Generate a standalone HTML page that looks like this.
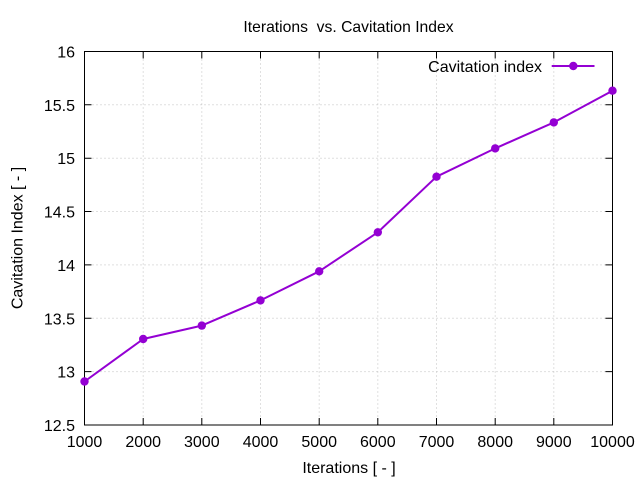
<!DOCTYPE html>
<html><head><meta charset="utf-8"><style>
html,body{margin:0;padding:0;background:#fff;}
svg{display:block;}
text{font-family:"Liberation Sans",Arial,sans-serif;font-size:16px;fill:#000;white-space:pre;}
</style></head><body>
<svg width="640" height="480" viewBox="0 0 640 480" xmlns="http://www.w3.org/2000/svg">
<rect width="640" height="480" fill="#fff"/>
<g stroke="#c0c0c0" stroke-width="1" stroke-dasharray="1,3" fill="none">
<line x1="143.2" y1="51.5" x2="143.2" y2="425"/>
<line x1="201.8" y1="51.5" x2="201.8" y2="425"/>
<line x1="260.5" y1="51.5" x2="260.5" y2="425"/>
<line x1="319.2" y1="51.5" x2="319.2" y2="425"/>
<line x1="377.8" y1="51.5" x2="377.8" y2="425"/>
<line x1="436.5" y1="51.5" x2="436.5" y2="425"/>
<line x1="495.2" y1="51.5" x2="495.2" y2="425"/>
<line x1="553.8" y1="51.5" x2="553.8" y2="425"/>
<line x1="84.5" y1="371.6" x2="612.5" y2="371.6"/>
<line x1="84.5" y1="318.3" x2="612.5" y2="318.3"/>
<line x1="84.5" y1="264.9" x2="612.5" y2="264.9"/>
<line x1="84.5" y1="211.5" x2="612.5" y2="211.5"/>
<line x1="84.5" y1="158.2" x2="612.5" y2="158.2"/>
<line x1="84.5" y1="104.8" x2="612.5" y2="104.8"/>
</g>
<g stroke="#000" stroke-width="1" fill="none">
<rect x="84.5" y="51.5" width="528" height="373.5"/>
<path d="M143.2 425v-7M201.8 425v-7M260.5 425v-7M319.2 425v-7M377.8 425v-7M436.5 425v-7M495.2 425v-7M553.8 425v-7
M143.2 51.5v7M201.8 51.5v7M260.5 51.5v7M319.2 51.5v7M377.8 51.5v7M436.5 51.5v7M495.2 51.5v7M553.8 51.5v7"/>
<path d="M84.5 371.6h7M84.5 318.3h7M84.5 264.9h7M84.5 211.5h7M84.5 158.2h7M84.5 104.8h7
M612.5 371.6h-7M612.5 318.3h-7M612.5 264.9h-7M612.5 211.5h-7M612.5 158.2h-7M612.5 104.8h-7"/>
</g>
<g text-anchor="end">
<text x="75" y="431">12.5</text>
<text x="75" y="377.6">13</text>
<text x="75" y="324.3">13.5</text>
<text x="75" y="270.9">14</text>
<text x="75" y="217.5">14.5</text>
<text x="75" y="164.2">15</text>
<text x="75" y="110.8">15.5</text>
<text x="75" y="57.5">16</text>
</g>
<g text-anchor="middle">
<text x="84.5" y="447">1000</text>
<text x="143.2" y="447">2000</text>
<text x="201.8" y="447">3000</text>
<text x="260.5" y="447">4000</text>
<text x="319.2" y="447">5000</text>
<text x="377.8" y="447">6000</text>
<text x="436.5" y="447">7000</text>
<text x="495.2" y="447">8000</text>
<text x="553.8" y="447">9000</text>
<text x="612.5" y="447">10000</text>
<text x="349" y="473">Iterations [ - ]</text>
<text x="348.5" y="32" style="font-size:15.7px" xml:space="preserve">Iterations  vs. Cavitation Index</text>
<text x="0" y="0" transform="translate(22.5,238) rotate(-90)">Cavitation Index [ - ]</text>
</g>
<polyline fill="none" stroke="#9400d3" stroke-width="2" stroke-linejoin="round"
points="84.5,381.5 143.2,339 201.8,325.6 260.5,300.4 319.2,271.3 377.8,232.3 436.5,176.7 495.2,148.4 553.8,122.4 612.5,90.7"/>
<g fill="#9400d3">
<circle cx="84.5" cy="381.5" r="4.2"/>
<circle cx="143.2" cy="339" r="4.2"/>
<circle cx="201.8" cy="325.6" r="4.2"/>
<circle cx="260.5" cy="300.4" r="4.2"/>
<circle cx="319.2" cy="271.3" r="4.2"/>
<circle cx="377.8" cy="232.3" r="4.2"/>
<circle cx="436.5" cy="176.7" r="4.2"/>
<circle cx="495.2" cy="148.4" r="4.2"/>
<circle cx="553.8" cy="122.4" r="4.2"/>
<circle cx="612.5" cy="90.7" r="4.2"/>
<circle cx="573.3" cy="66" r="4.2"/>
</g>
<line x1="551.7" y1="66" x2="594.5" y2="66" stroke="#9400d3" stroke-width="2"/>
<text x="542" y="72" text-anchor="end">Cavitation index</text>
</svg>
</body></html>
